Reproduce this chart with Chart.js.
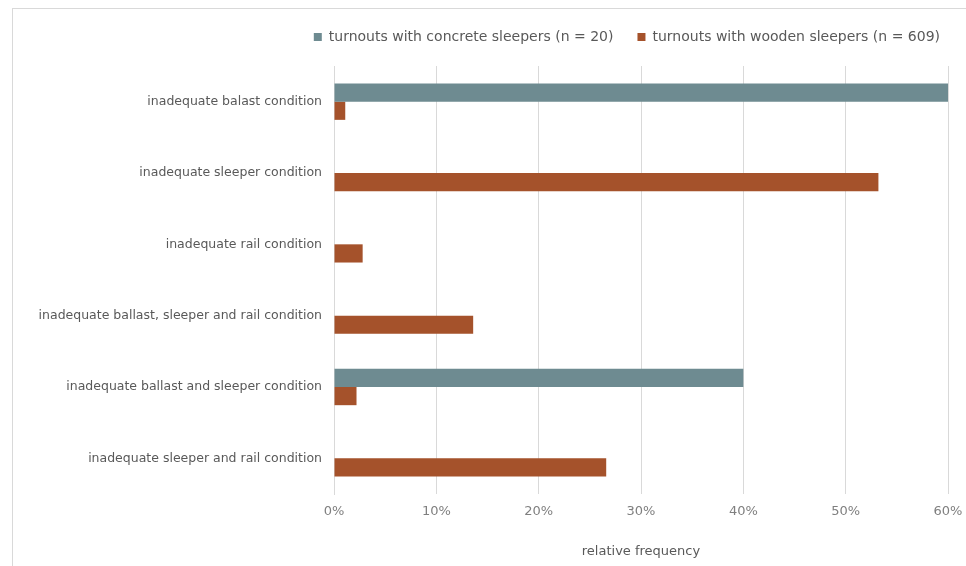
<!DOCTYPE html>
<html>
<head>
<meta charset="utf-8">
<script src="https://cdn.jsdelivr.net/npm/chart.js@4/dist/chart.umd.min.js"></script>
<style>
  html, body { margin: 0; padding: 0; background: #fff; }
  #wrap { position: relative; width: 966px; height: 566px; overflow: hidden; }
  #frame { position: absolute; left: 12px; top: 8px; width: 1000px; height: 600px;
           border-left: 1px solid #d9d9d9; border-top: 1px solid #d9d9d9; }
  #chart { position: absolute; left: 0; top: 0; }
</style>
</head>
<body>
<div id="wrap">
  <div id="frame"></div>
  <canvas id="chart" width="966" height="566"></canvas>
</div>
<script>
const categories = [
  'inadequate balast condition',
  'inadequate sleeper condition',
  'inadequate rail condition',
  'inadequate ballast, sleeper and rail condition',
  'inadequate ballast and sleeper condition',
  'inadequate sleeper and rail condition'
];
const concreteValues = [60, 0, 0, 0, 40, 0];
const woodenValues = [1.1, 53.2, 2.8, 13.6, 2.2, 26.6];
const seriesNames = [
  'turnouts with concrete sleepers (n = 20)',
  'turnouts with wooden sleepers (n = 609)'
];
const xTicks = [0, 10, 20, 30, 40, 50, 60];

const FONT = 'DejaVu Sans';
const textGrey = '#595959';

// extra room under the legend
const legendGap = {
  id: 'legendGap',
  beforeInit(chart) {
    const fit = chart.legend.fit;
    chart.legend.fit = function () {
      fit.call(this);
      this.height += 12;
    };
  }
};

new Chart(document.getElementById('chart'), {
  type: 'bar',
  data: {
    labels: categories,
    datasets: [{
      label: seriesNames[0],
      data: concreteValues,
      backgroundColor: '#6e8b91',
      categoryPercentage: 0.51,
      barPercentage: 1
    }, {
      label: seriesNames[1],
      data: woodenValues,
      backgroundColor: '#a5522b',
      categoryPercentage: 0.51,
      barPercentage: 1
    }]
  },
  options: {
    indexAxis: 'y',
    responsive: false,
    animation: false,
    layout: { padding: { top: 6, right: 2, bottom: 6, left: 12 } },
    plugins: {
      legend: {
        position: 'top',
        align: 'end',
        labels: {
          boxWidth: 8,
          boxHeight: 8,
          color: textGrey,
          padding: 24,
          font: { family: FONT, size: 14 }
        }
      },
      tooltip: { enabled: false }
    },
    scales: {
      x: {
        min: 0,
        max: 60,
        afterBuildTicks: scale => { scale.ticks = xTicks.map(v => ({ value: v })); },
        afterFit: scale => {
          scale.paddingLeft = 0;
          scale.paddingRight = 18;
          scale.height = 66;
        },
        ticks: {
          color: '#7f7f7f',
          padding: 10,
          font: { family: FONT, size: 13 },
          callback: v => v + '%'
        },
        grid: { color: '#d9d9d9', drawTicks: false },
        border: { display: false },
        title: {
          display: true,
          text: 'relative frequency',
          color: textGrey,
          font: { family: FONT, size: 13 },
          padding: { top: 10, bottom: 1 }
        }
      },
      y: {
        afterFit: scale => { scale.width = 322; },
        ticks: {
          color: textGrey,
          padding: 12,
          font: { family: FONT, size: 12.5 }
        },
        grid: { display: false, drawTicks: false },
        border: { display: true, color: '#d9d9d9' }
      }
    }
  },
  plugins: [legendGap]
});
</script>
</body>
</html>
